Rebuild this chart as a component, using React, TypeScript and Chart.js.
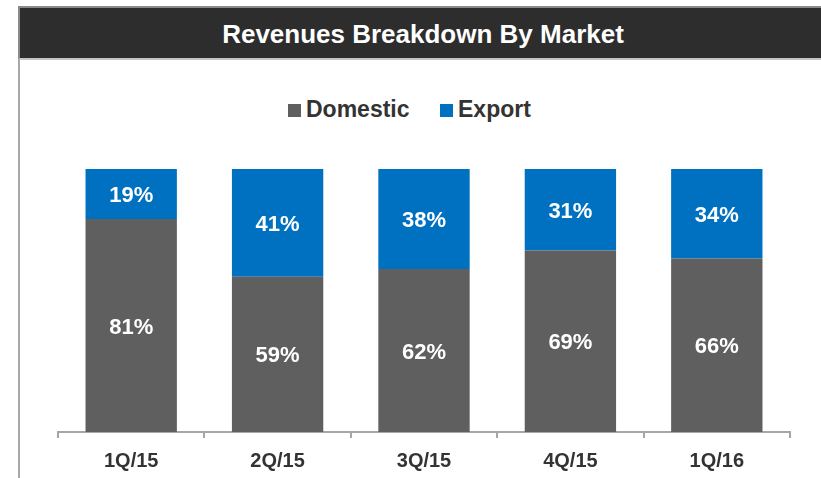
import React, { useEffect, useRef } from "react";
import { Chart, registerables } from "chart.js";

Chart.register(...registerables);

const title = "Revenues Breakdown By Market";
const categories = ["1Q/15", "2Q/15", "3Q/15", "4Q/15", "1Q/16"];
const seriesNames = ["Domestic", "Export"];
const domestic = [81, 59, 62, 69, 66];
const exportShare = [19, 41, 38, 31, 34];
const seriesColors = ["#5f5f5f", "#0070c0"];

const FONT = '"Liberation Sans", Arial, Helvetica, sans-serif';

const labelPlugin = {
  id: "segmentLabels",
  afterDatasetsDraw(chart: any) {
    const ctx = chart.ctx;
    ctx.save();
    ctx.fillStyle = "#ffffff";
    ctx.font = `bold 22px ${FONT}`;
    ctx.textAlign = "center";
    ctx.textBaseline = "middle";
    chart.data.datasets.forEach((ds: any, di: number) => {
      const meta = chart.getDatasetMeta(di);
      meta.data.forEach((bar: any, i: number) => {
        const v = ds.data[i];
        const y = (bar.y + bar.base) / 2;
        ctx.fillText(`${v}%`, bar.x, y + 2);
      });
    });
    ctx.restore();
  },
};

export default function App() {
  const canvasRef = useRef<HTMLCanvasElement | null>(null);

  useEffect(() => {
    if (!canvasRef.current) return;
    const chart = new Chart(canvasRef.current, {
      type: "bar",
      data: {
        labels: categories,
        datasets: [
          {
            label: seriesNames[0],
            data: domestic,
            backgroundColor: seriesColors[0],
            borderWidth: 0,
            barPercentage: 0.624,
            categoryPercentage: 1,
          },
          {
            label: seriesNames[1],
            data: exportShare,
            backgroundColor: seriesColors[1],
            borderWidth: 0,
            barPercentage: 0.624,
            categoryPercentage: 1,
          },
        ],
      },
      options: {
        animation: false,
        responsive: false,
        maintainAspectRatio: false,
        layout: { padding: { top: 169, left: 58, right: 31, bottom: -6 } },
        plugins: {
          legend: { display: false },
          title: { display: false },
          tooltip: { enabled: false },
        },
        scales: {
          x: {
            stacked: true,
            offset: true,
            grid: {
              display: true,
              drawOnChartArea: false,
              drawTicks: true,
              tickLength: 6,
              color: "#a6a6a6",
              lineWidth: 2,
              offset: true,
            },
            border: { display: true, color: "#a6a6a6", width: 2 },
            ticks: {
              color: "#333333",
              font: { family: FONT, size: 20, weight: "bold" },
              padding: 11,
              maxRotation: 0,
            },
          },
          y: {
            stacked: true,
            display: false,
            min: 0,
            max: 100,
          },
        },
      },
      plugins: [labelPlugin],
    });
    return () => chart.destroy();
  }, []);

  const legendText: React.CSSProperties = {
    position: "absolute",
    top: 98,
    fontFamily: FONT,
    fontWeight: "bold",
    fontSize: 23,
    lineHeight: "23px",
    color: "#333333",
    whiteSpace: "nowrap",
  };

  return (
    <div
      style={{
        position: "absolute",
        left: 0,
        top: 0,
        width: 821,
        height: 478,
        overflow: "hidden",
        background: "#ffffff",
      }}
    >
      {/* title bar */}
      <div
        style={{
          position: "absolute",
          left: 18,
          top: 6,
          width: 813,
          height: 54,
          background: "#2d2d2d",
          borderTop: "2px solid #8a8a8a",
          borderLeft: "2px solid #8a8a8a",
          borderBottom: "2px solid #c4c4c4",
          boxSizing: "border-box",
        }}
      />
      <div
        style={{
          position: "absolute",
          left: 0,
          top: 9,
          width: 846,
          height: 50,
          fontFamily: FONT,
          fontWeight: "bold",
          fontSize: 26,
          lineHeight: "50px",
          textAlign: "center",
          color: "#ffffff",
          whiteSpace: "nowrap",
        }}
      >
        {title}
      </div>
      {/* left frame line */}
      <div
        style={{
          position: "absolute",
          left: 18,
          top: 60,
          width: 2,
          height: 418,
          background: "#a8a8a8",
        }}
      />
      {/* legend */}
      <div
        style={{
          position: "absolute",
          left: 288,
          top: 104,
          width: 13,
          height: 13,
          background: seriesColors[0],
        }}
      />
      <div style={{ ...legendText, left: 306 }}>{seriesNames[0]}</div>
      <div
        style={{
          position: "absolute",
          left: 440,
          top: 104,
          width: 13,
          height: 13,
          background: seriesColors[1],
        }}
      />
      <div style={{ ...legendText, left: 458 }}>{seriesNames[1]}</div>
      <canvas
        ref={canvasRef}
        width={821}
        height={478}
        style={{ position: "absolute", left: 0, top: 0, width: 821, height: 478 }}
      />
    </div>
  );
}
